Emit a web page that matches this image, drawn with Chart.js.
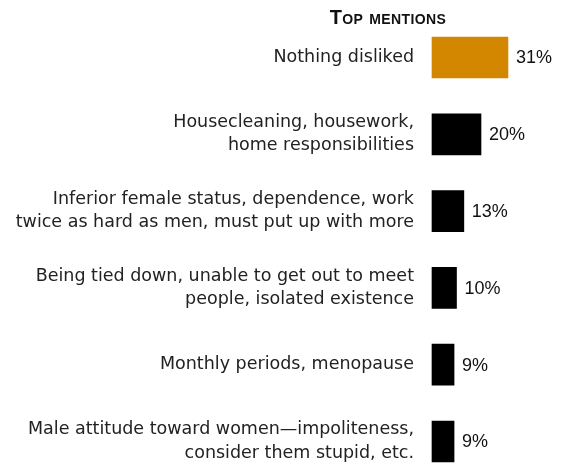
<!DOCTYPE html>
<html>
<head>
<meta charset="utf-8">
<script src="https://cdn.jsdelivr.net/npm/chart.js@4"></script>
<style>
  body{margin:0;background:#fff;}
  #wrap{position:relative;width:563px;height:466px;}
  #title{position:absolute;left:0;top:6px;width:776px;text-align:center;font-family:"Liberation Sans",Arial,sans-serif;font-weight:bold;font-size:20px;font-variant:small-caps;color:#111;letter-spacing:0.4px;}
</style>
</head>
<body>
<div id="wrap">
  <div id="title">Top mentions</div>
  <canvas id="myChart" width="563" height="466"></canvas>
</div>
<script>
// what women dislike - top mentions
var labels = [
  ["Nothing disliked"],
  ["Housecleaning, housework,", "home responsibilities"],
  ["Inferior female status, dependence, work", "twice as hard as men, must put up with more"],
  ["Being tied down, unable to get out to meet", "people, isolated existence"],
  ["Monthly periods, menopause"],
  ["Male attitude toward women\u2014impoliteness,", "consider them stupid, etc."]
];
var values = [31, 20, 13, 10, 9, 9];
var colors = ["#D38600", "#000000", "#000000", "#000000", "#000000", "#000000"];

var ctx = document.getElementById('myChart').getContext('2d');

// draws "31%" etc right of each bar
var valueLabels = {
  id: 'valueLabels',
  afterDatasetsDraw(chart){
    let c = chart.ctx;
    let meta = chart.getDatasetMeta(0);
    c.save();
    c.font = '18px "Liberation Sans", Arial, sans-serif';
    c.fillStyle = '#111';
    c.textAlign = 'left';
    c.textBaseline = 'middle';
    meta.data.forEach((bar, i) => {
      c.fillText(values[i] + '%', bar.x + 8, bar.y + 1);
    });
    c.restore();
  }
};

var myChart = new Chart(ctx, {
  type: 'bar',
  data: {
    labels: labels,
    datasets: [{
      data: values,
      backgroundColor: colors,
      borderWidth: 0,
      barThickness: 41,
      clip: false
    }]
  },
  options: {
    indexAxis: 'y',
    responsive: false,
    animation: false,
    layout: {padding: {top: 57.5, bottom: 24.5, right: 8.5, left: 0}},
    plugins: {legend: {display: false}, tooltip: {enabled: false}},
    scales: {
      x: {display: false, min: 0, max: 50},
      y: {
        offset: false,
        grid: {display: false, drawTicks: false},
        border: {display: false},
        afterFit: function(scale){
          scale.width = 432;
          scale.paddingTop = 0;
          scale.paddingBottom = 0;
        },
        ticks: {
          padding: 18,
          color: '#222',
          font: {family: '"DejaVu Sans", sans-serif', size: 17.5, lineHeight: 1.32}
        }
      }
    }
  },
  plugins: [valueLabels]
});
</script>
</body>
</html>
